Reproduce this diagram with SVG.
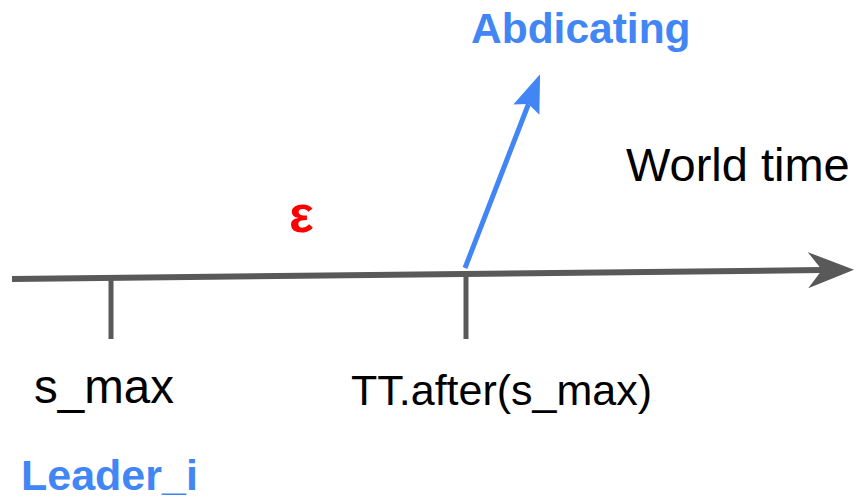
<svg xmlns="http://www.w3.org/2000/svg" width="856" height="498" viewBox="0 0 856 498">
<style>
.lbl{font-family:"Liberation Sans",Arial,sans-serif;fill:#000}
.blue{font-family:"Liberation Sans",Arial,sans-serif;font-weight:bold;fill:#4285f4}
.axis{stroke:#595959;stroke-width:6;fill:none}
.tick{stroke:#595959;stroke-width:5;fill:none}
</style>
<defs>
<marker id="ga" markerUnits="userSpaceOnUse" viewBox="0 0 48 38" refX="14" refY="19" markerWidth="48" markerHeight="38" orient="auto">
<path d="M0,1 L46,19 L0,37 L14,19 Z" fill="#595959"/>
</marker>
<marker id="ba" markerUnits="userSpaceOnUse" viewBox="0 0 40 30" refX="6" refY="15" markerWidth="40" markerHeight="30" orient="auto">
<path d="M0,1 L38,15 L0,29 L6,15 Z" fill="#4285f4"/>
</marker>
</defs>
<g id="connectors">
<line class="axis" x1="12" y1="279" x2="822" y2="270" marker-end="url(#ga)"/>
<line x1="465" y1="268" x2="528.5" y2="104" stroke="#4285f4" stroke-width="5" marker-end="url(#ba)"/>
</g>
<g id="tick-smax"><line class="tick" x1="111" y1="280" x2="111" y2="339"/></g>
<g id="tick-tt"><line class="tick" x1="466" y1="272" x2="466" y2="339"/></g>
<g id="label-smax"><text class="lbl" x="34" y="403" font-size="47.5">s_max</text></g>
<g id="label-tt"><text class="lbl" x="351" y="405" font-size="43">TT.after(s_max)</text></g>
<g id="label-world"><text class="lbl" x="626" y="181" font-size="47">World time</text></g>
<g id="label-abdicating"><text class="blue" x="471" y="43" font-size="42.5">Abdicating</text></g>
<g id="label-leader"><text class="blue" x="21" y="490" font-size="43">Leader_i</text></g>
<g id="label-eps"><text x="289" y="232" font-size="52" font-weight="bold" fill="#ff0000" font-family="'Liberation Sans',Arial,sans-serif">ε</text></g>
</svg>
